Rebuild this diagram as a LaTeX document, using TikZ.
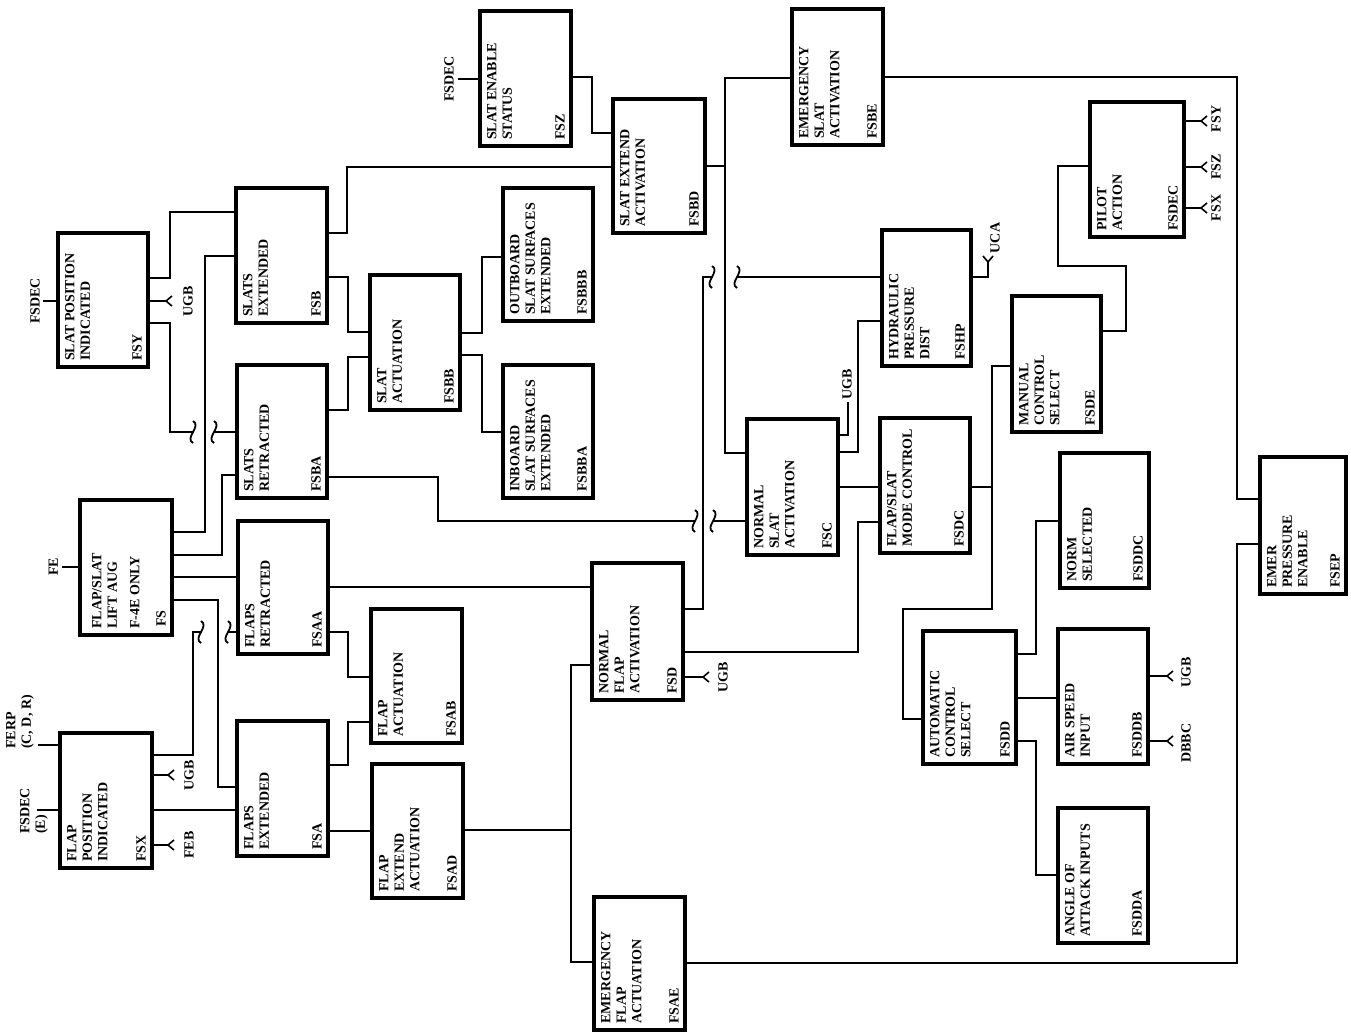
\documentclass[tikz,border=0pt]{standalone}
\usepackage{fontspec}
\setmainfont{Liberation Serif}
\newcommand{\dfont}{\fontsize{14}{15.5}\selectfont\bfseries}
\tikzset{
  blk/.style={draw, rectangle, line width=3.2pt, inner sep=0pt, outer sep=0pt},
  ttl/.style={rotate=90, anchor=north west, align=left, inner sep=0pt, font=\dfont},
  idl/.style={rotate=90, anchor=south west, inner sep=0pt, font=\dfont},
  lbl/.style={rotate=90, inner sep=0pt, font=\dfont},
  conn/.style={line width=2pt},
}
\newcommand{\fbblock}[7]{%
  \node[blk, minimum width={#4-#2}, minimum height={#5-#3}] (#1) at ({(#2+#4)/2},{(#3+#5)/2}) {};
  \node[ttl] (#1t) at ({#2+7},{#5-6}) {#6};
  \node[idl] (#1i) at ({#4-6},{#5-6}) {#7};}
\newcommand{\forkR}[1]{\draw[conn, line width=1.6pt] ([shift={(6,-5)}]#1) -- (#1) -- ([shift={(6,5)}]#1);}
\newcommand{\forkU}[1]{\draw[conn, line width=1.6pt] ([shift={(-5,-6)}]#1) -- (#1) -- ([shift={(5,-6)}]#1);}
\newcommand{\squig}[1]{\draw[conn, line width=1.8pt] ([shift={(0,-11)}]#1) .. controls ([shift={(9,-6)}]#1) and ([shift={(-9,6)}]#1) .. ([shift={(0,11)}]#1);}
\begin{document}
\begin{tikzpicture}[x=1pt,y=-1pt]
\path[use as bounding box, fill=white] (0,0) rectangle (1351,1033);

% ---------------- boxes ----------------
\fbblock{FSY}{58}{233}{148}{367}{SLAT POSITION\\INDICATED}{FSY}
\fbblock{FSX}{60}{733}{152}{868}{FLAP\\POSITION\\INDICATED}{FSX}
\node[blk, minimum width=92, minimum height=135] (FS) at (126,567.5) {};
\node[ttl] (FSt) at (92,629) {FLAP/SLAT\\LIFT AUG\\[7pt]F-4E ONLY};
\node[idl] (FSi) at (166,627) {FS};
\fbblock{FSB}{236}{188}{327}{323}{SLATS\\EXTENDED}{FSB}
\fbblock{FSBA}{237}{365}{327}{498}{SLATS\\RETRACTED}{FSBA}
\fbblock{FSAA}{238}{521}{328}{654}{FLAPS\\RETRACTED}{FSAA}
\fbblock{FSA}{237}{721}{328}{856}{FLAPS\\EXTENDED}{FSA}
\fbblock{FSBB}{370}{275}{460}{410}{SLAT\\ACTUATION}{FSBB}
\fbblock{FSAB}{371}{609}{462}{743}{FLAP\\ACTUATION}{FSAB}
\fbblock{FSAD}{372}{764}{463}{898}{FLAP\\EXTEND\\ACTUATION}{FSAD}
\fbblock{FSBBB}{503}{188}{593}{321}{OUTBOARD\\SLAT SURFACES\\EXTENDED}{FSBBB}
\fbblock{FSBBA}{503}{365}{593}{498}{INBOARD\\SLAT SURFACES\\EXTENDED}{FSBBA}
\fbblock{FSZ}{480}{11}{571}{146}{SLAT ENABLE\\STATUS}{FSZ}
\fbblock{FSBD}{613}{99}{705}{233}{SLAT EXTEND\\ACTIVATION}{FSBD}
\fbblock{FSBE}{792}{9}{883}{145}{EMERGENCY\\SLAT\\ACTIVATION}{FSBE}
\fbblock{FSD}{592}{563}{683}{700}{NORMAL\\FLAP\\ACTIVATION}{FSD}
\fbblock{FSAE}{594}{897}{685}{1030}{EMERGENCY\\FLAP\\ACTUATION}{FSAE}
\fbblock{FSC}{747}{419}{838}{555}{NORMAL\\SLAT\\ACTIVATION}{FSC}
\fbblock{FSHP}{882}{230}{971}{366}{HYDRAULIC\\PRESSURE\\DIST}{FSHP}
\fbblock{FSDC}{880}{418}{970}{553}{FLAP/SLAT\\MODE CONTROL}{FSDC}
\fbblock{FSDE}{1012}{296}{1101}{432}{MANUAL\\CONTROL\\SELECT}{FSDE}
\fbblock{FSDEC}{1090}{102}{1184}{237}{PILOT\\ACTION}{FSDEC}
\fbblock{FSDD}{923}{631}{1016}{764}{AUTOMATIC\\CONTROL\\SELECT}{FSDD}
\fbblock{FSDDC}{1060}{453}{1149}{588}{NORM\\SELECTED}{FSDDC}
\fbblock{FSDDB}{1058}{629}{1148}{764}{AIR SPEED\\INPUT}{FSDDB}
\fbblock{FSDDA}{1058}{808}{1148}{943}{ANGLE OF\\ATTACK INPUTS}{FSDDA}
\fbblock{FSEP}{1260}{457}{1346}{594}{EMER\\PRESSURE\\ENABLE}{FSEP}

% ---------------- external inputs ----------------
\coordinate (eFSY) at (43,301);
\node[lbl, anchor=south] (tFSY) at (40,301) {FSDEC};
\draw[conn] (eFSY) -- (FSY.west|-eFSY);
\coordinate (eFS) at (62,567);
\node[lbl, anchor=south] (tFS) at (58,567) {FE};
\draw[conn] (eFS) -- (FS.west|-eFS);
\coordinate (eFSZ) at (458,79);
\node[lbl, anchor=south] (tFSZ) at (454,79) {FSDEC};
\draw[conn] (eFSZ) -- (FSZ.west|-eFSZ);
\coordinate (eFX1) at (38,745);
\node[lbl, align=left, anchor=south west] (tFX1) at (34,749) {FERP\\(C, D, R)};
\draw[conn] (eFX1) -- (FSX.west|-eFX1);
\coordinate (eFX2) at (37,810);
\node[lbl, align=left, anchor=south west] (tFX2) at (48,834) {FSDEC\\(E)};
\draw[conn] (eFX2) -- (FSX.west|-eFX2);

% ---------------- stubs ----------------
\coordinate (s1) at (166,301); \draw[conn] (FSY.east|-s1) -- (s1); \forkR{s1}
\node[lbl] (ls1) at (188,301) {UGB};
\coordinate (s2) at (168,775); \draw[conn] (FSX.east|-s2) -- (s2); \forkR{s2}
\node[lbl] (ls2) at (189,775) {UGB};
\coordinate (s3) at (168,845); \draw[conn] (FSX.east|-s3) -- (s3); \forkR{s3}
\node[lbl] (ls3) at (189,845) {FEB};
\coordinate (s4) at (703,677); \draw[conn] (FSD.east|-s4) -- (s4); \forkR{s4}
\node[lbl] (ls4) at (723,677) {UGB};
\coordinate (s5) at (1167,676); \draw[conn] (FSDDB.east|-s5) -- (s5); \forkR{s5}
\node[lbl] (ls5) at (1186,672) {UGB};
\coordinate (s6) at (1167,741); \draw[conn] (FSDDB.east|-s6) -- (s6); \forkR{s6}
\node[lbl] (ls6) at (1186,743) {DBBC};
\coordinate (s7) at (1201,121); \draw[conn] (FSDEC.east|-s7) -- (s7); \forkR{s7}
\node[lbl] (ls7) at (1216,119) {FSY};
\coordinate (s8) at (1201,167); \draw[conn] (FSDEC.east|-s8) -- (s8); \forkR{s8}
\node[lbl] (ls8) at (1216,167) {FSZ};
\coordinate (s9) at (1201,208); \draw[conn] (FSDEC.east|-s9) -- (s9); \forkR{s9}
\node[lbl] (ls9) at (1216,208) {FSX};
\coordinate (s10) at (848,402); \draw[conn] (FSC.east|-0,435) -| (s10);
\node[lbl, anchor=west] (ls10) at (847,400) {UGB};
\coordinate (s11) at (988,262); \draw[conn] (FSHP.east|-0,277) -| (s11); \forkU{s11}
\node[lbl] (ls11) at (995,238) {UCA};

% ---------------- connectors ----------------
\draw[conn] (FSY.east|-0,278) -| (170,212) -- (FSB.west|-0,212);
\coordinate (q1) at (193,432); \coordinate (q2) at (214,432);
\draw[conn] (FSY.east|-0,323) -| (170,432) -- (q1); \squig{q1} \squig{q2}
\draw[conn] (q2) -- (FSBA.west|-q2);
\draw[conn] (FS.east|-0,532) -| (205,256) -- (FSB.west|-0,256);
\draw[conn] (FS.east|-0,555) -| (222,475) -- (FSBA.west|-0,475);
\draw[conn] (FS.east|-0,577) -- (FSAA.west|-0,577);
\draw[conn] (FS.east|-0,600) -| (218,787) -- (FSA.west|-0,787);
\coordinate (q3) at (201,632); \coordinate (q4) at (228,632);
\draw[conn] (FSX.east|-0,755) -| (193,632) -- (q3); \squig{q3} \squig{q4}
\draw[conn] (q4) -- (FSAA.west|-q4);
\draw[conn] (FSX.east|-0,810) -- (FSA.west|-0,810);

\draw[conn] (FSB.east|-0,233) -| (347,167) -- (FSBD.west|-0,167);
\draw[conn] (FSB.east|-0,277) -| (348,332) -- (FSBB.west|-0,332);
\draw[conn] (FSBA.east|-0,410) -| (348,357) -- (FSBB.west|-0,357);
\coordinate (q5) at (695,521); \coordinate (q6) at (713,521);
\draw[conn] (FSBA.east|-0,477) -| (438,521) -- (q5); \squig{q5} \squig{q6}
\draw[conn] (q6) -- (FSC.west|-q6);
\draw[conn] (FSBB.east|-0,333) -| (482,257) -- (FSBBB.west|-0,257);
\draw[conn] (FSBB.east|-0,355) -| (482,432) -- (FSBBA.west|-0,432);

\draw[conn] (FSZ.east|-0,77) -| (592,133) -- (FSBD.west|-0,133);
\draw[conn] (FSBD.east|-0,166) -- (725,166);
\draw[conn] (FSBE.west|-0,78) -| (725,453) -- (FSC.west|-0,453);
\coordinate (q7) at (712,277); \coordinate (q8) at (737,277);
\draw[conn] (FSD.east|-0,609) -| (703,277) -- (q7); \squig{q7} \squig{q8}
\draw[conn] (q8) -- (FSHP.west|-q8);
\draw[conn] (FSC.east|-0,452) -| (858,321) -- (FSHP.west|-0,321);
\draw[conn] (FSC.east|-0,487) -- (FSDC.west|-0,487);
\draw[conn] (FSD.east|-0,652) -| (858,522) -- (FSDC.west|-0,522);

\draw[conn] (FSAA.east|-0,587) -- (FSD.west|-0,587);
\draw[conn] (FSAA.east|-0,632) -| (348,677) -- (FSAB.west|-0,677);
\draw[conn] (FSA.east|-0,765) -| (348,722) -- (FSAB.west|-0,722);
\draw[conn] (FSA.east|-0,831) -- (FSAD.west|-0,831);
\draw[conn] (FSAD.east|-0,830) -- (571,830);
\draw[conn] (FSD.west|-0,665) -| (571,962) -- (FSAE.west|-0,962);
\draw[conn] (FSAE.east|-0,963) -| (1237,544) -- (FSEP.west|-0,544);
\draw[conn] (FSBE.east|-0,77) -| (1237,499) -- (FSEP.west|-0,499);

\draw[conn] (FSDC.east|-0,487) -- (992,487);
\draw[conn] (FSDE.west|-0,366) -| (992,609) -| (903,719) -- (FSDD.west|-0,719);
\draw[conn] (FSDE.east|-0,331) -| (1126,266) -| (1058,166) -- (FSDEC.west|-0,166);
\draw[conn] (FSDD.east|-0,654) -| (1036,521) -- (FSDDC.west|-0,521);
\draw[conn] (FSDD.east|-0,698) -- (FSDDB.west|-0,698);
\draw[conn] (FSDD.east|-0,741) -| (1036,875) -- (FSDDA.west|-0,875);
\end{tikzpicture}
\end{document}
